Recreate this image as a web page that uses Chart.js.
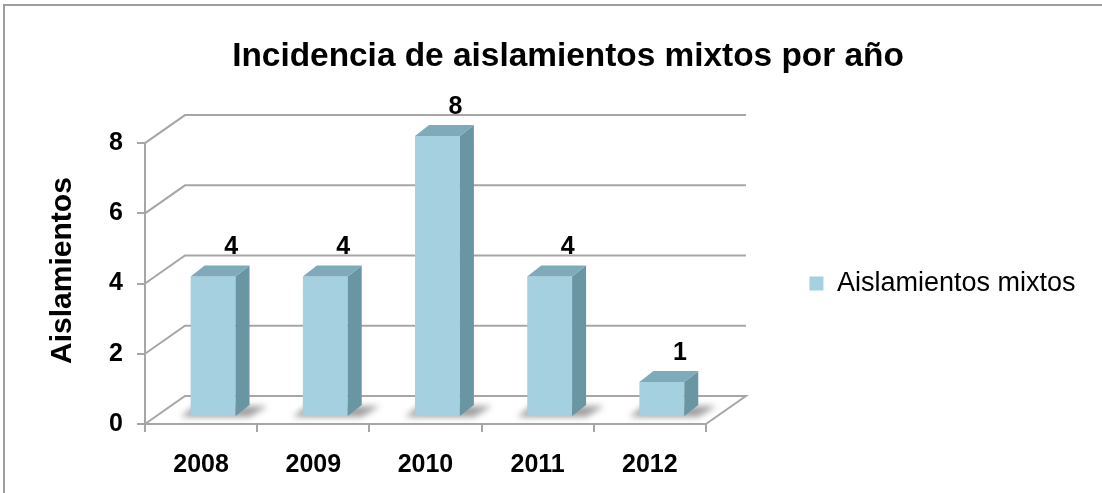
<!DOCTYPE html>
<html>
<head>
<meta charset="utf-8">
<title>Incidencia de aislamientos mixtos por año</title>
<script src="https://cdn.jsdelivr.net/npm/chart.js@4/dist/chart.umd.min.js"></script>
<style>
  html, body { margin: 0; padding: 0; background: #ffffff; }
  #wrap { width: 1102px; height: 493px; position: relative; }
</style>
</head>
<body>
<div id="wrap"><canvas id="chart" width="1102" height="493"></canvas></div>
<script>
// ---- data ----
const years = ['2008', '2009', '2010', '2011', '2012'];
const aislamientos = [4, 4, 8, 4, 1];
const yTickValues = [0, 2, 4, 6, 8];
const chartTitle = 'Incidencia de aislamientos mixtos por año';
const yAxisTitle = 'Aislamientos';
const seriesName = 'Aislamientos mixtos';

// ---- look ----
const FONT = "'Liberation Sans', Arial, Helvetica, sans-serif";
const LINE = '#a6a6a6';
const FACE_FRONT = '#a4d0df';
const FACE_TOP = '#7eaab9';
const FACE_SIDE = '#6a95a3';

// oblique projection of the floor / back wall
const WALL_DX = 40, WALL_DY = -28;
// bars stand a little behind the front edge of the floor
const BAR_DX = 12, BAR_DY = -7;
// bar depth
const DEPTH_DX = 14, DEPTH_DY = -11;

function barProps(chart) {
  const meta = chart.getDatasetMeta(0);
  return meta.data.map(el => el.getProps(['x', 'y', 'base', 'width'], true));
}

const frame3d = {
  id: 'frame3d',
  beforeDraw(chart) {
    const ctx = chart.ctx;
    ctx.save();
    ctx.fillStyle = '#9e9e9e';
    ctx.fillRect(3, 4, chart.width, 2);
    ctx.fillRect(3, 4, 2, chart.height);
    ctx.restore();
  },
  beforeDatasetsDraw(chart) {
    const ctx = chart.ctx;
    const xs = chart.scales.x, ys = chart.scales.y;
    const left = xs.left, right = xs.right;
    ctx.save();
    ctx.strokeStyle = LINE;
    ctx.lineWidth = 2;
    ctx.lineCap = 'butt';
    // back wall grid lines with their diagonal returns to the front axis
    ys.ticks.forEach(t => {
      const py = ys.getPixelForValue(t.value);
      ctx.beginPath();
      ctx.moveTo(left, py);
      ctx.lineTo(left + WALL_DX, py + WALL_DY);
      ctx.lineTo(right + WALL_DX, py + WALL_DY);
      if (t.value === 0) ctx.lineTo(right, py);
      ctx.stroke();
    });
    ctx.restore();

    // soft floor shadows behind each bar
    const bars = barProps(chart);
    ctx.save();
    ctx.filter = 'blur(3px)';
    ctx.fillStyle = 'rgba(45,45,45,0.45)';
    bars.forEach(b => {
      const x0 = b.x - b.width / 2 + BAR_DX;
      const x1 = b.x + b.width / 2 + BAR_DX;
      const fy = b.base + BAR_DY;
      ctx.beginPath();
      ctx.moveTo(x0 - 10, fy + 1);
      ctx.lineTo(x1 + 14, fy + 1);
      ctx.lineTo(x1 + 32, fy - 10);
      ctx.lineTo(x0 + 4, fy - 10);
      ctx.closePath();
      ctx.fill();
    });
    ctx.restore();

    // the library draws the bar fronts in this shifted plane
    ctx.save();
    ctx.translate(BAR_DX, BAR_DY);
  },
  afterDatasetsDraw(chart) {
    const ctx = chart.ctx;
    const bars = barProps(chart);
    bars.forEach(b => {
      const x0 = b.x - b.width / 2;
      const x1 = b.x + b.width / 2;
      const top = b.y, base = b.base;
      // right side face
      ctx.fillStyle = FACE_SIDE;
      ctx.beginPath();
      ctx.moveTo(x1, top);
      ctx.lineTo(x1 + DEPTH_DX, top + DEPTH_DY);
      ctx.lineTo(x1 + DEPTH_DX, base + DEPTH_DY);
      ctx.lineTo(x1, base);
      ctx.closePath();
      ctx.fill();
      // top face
      ctx.fillStyle = FACE_TOP;
      ctx.beginPath();
      ctx.moveTo(x0, top);
      ctx.lineTo(x0 + DEPTH_DX, top + DEPTH_DY);
      ctx.lineTo(x1 + DEPTH_DX, top + DEPTH_DY);
      ctx.lineTo(x1, top);
      ctx.closePath();
      ctx.fill();
    });
    ctx.restore();

    // value labels above each bar
    const values = chart.data.datasets[0].data;
    ctx.save();
    ctx.fillStyle = '#000';
    ctx.font = 'bold 25px ' + FONT;
    ctx.textAlign = 'center';
    ctx.textBaseline = 'middle';
    bars.forEach((b, i) => {
      ctx.fillText(String(values[i]), b.x + 30, b.y - 36);
    });
    ctx.restore();
  },
  afterDraw(chart) {
    // rotated value-axis title, sitting slightly above the axis middle
    const ctx = chart.ctx;
    const ys = chart.scales.y;
    const cy = (ys.top + ys.bottom) / 2 - 13;
    ctx.save();
    ctx.translate(62.5, cy);
    ctx.rotate(-Math.PI / 2);
    ctx.fillStyle = '#000';
    ctx.font = 'bold 30px ' + FONT;
    ctx.textAlign = 'center';
    ctx.textBaseline = 'middle';
    ctx.fillText(yAxisTitle, 0, 0);
    ctx.restore();
  }
};

Chart.defaults.color = '#000';
Chart.defaults.font.family = FONT;

new Chart(document.getElementById('chart'), {
  type: 'bar',
  data: {
    labels: years,
    datasets: [{
      label: seriesName,
      data: aislamientos,
      backgroundColor: FACE_FRONT,
      borderWidth: 0,
      categoryPercentage: 1,
      barPercentage: 0.4,
      clip: false
    }]
  },
  options: {
    responsive: false,
    animation: false,
    events: [],
    layout: { padding: { left: 50.5, right: 16.5, top: 0, bottom: 0 } },
    plugins: {
      title: {
        display: true,
        text: chartTitle,
        color: '#000',
        font: { size: 33.4, weight: 'bold', family: FONT },
        padding: { top: 37, bottom: 66 }
      },
      legend: {
        display: true,
        position: 'right',
        fullSize: false,
        maxWidth: 420,
        labels: {
          boxWidth: 14,
          boxHeight: 14,
          padding: 103.5,
          color: '#000',
          font: { size: 27, family: FONT }
        }
      },
      tooltip: { enabled: false }
    },
    scales: {
      x: {
        offset: true,
        grid: {
          display: true, drawOnChartArea: false, drawTicks: true,
          tickLength: 8, color: LINE, lineWidth: 2, offset: true
        },
        border: { display: true, color: LINE, width: 2 },
        ticks: {
          color: '#000', maxRotation: 0, autoSkip: false, padding: 18,
          font: { size: 25, weight: 'bold', family: FONT }
        },
        afterFit(scale) { scale.height = 69; }
      },
      y: {
        min: 0,
        max: 8,
        afterBuildTicks(scale) { scale.ticks = yTickValues.map(v => ({ value: v })); },
        grid: {
          display: true, drawOnChartArea: false, drawTicks: true,
          tickLength: 8, color: LINE, lineWidth: 2
        },
        border: { display: true, color: LINE, width: 2 },
        ticks: {
          color: '#000', padding: 14,
          font: { size: 25, weight: 'bold', family: FONT }
        },
        title: { display: false },
        afterFit(scale) { scale.width = 94.5; }
      }
    }
  },
  plugins: [frame3d]
});
</script>
</body>
</html>
